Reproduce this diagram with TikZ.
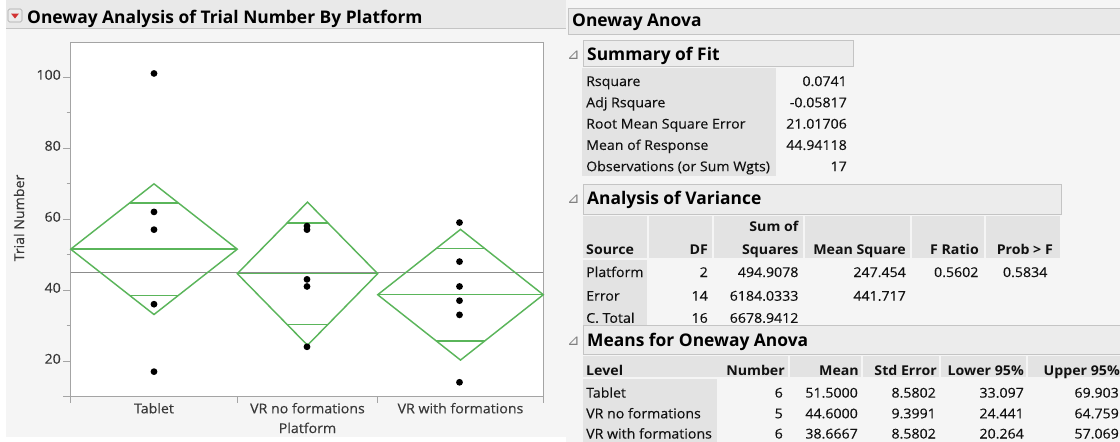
\documentclass[tikz,border=0pt]{standalone}
\usepackage{fontspec}
\setmainfont{Open Sans}[FakeStretch=1.05, UprightFeatures={FakeBold=0.3}]
\newfontfamily\hdfont{Open Sans}
\newfontfamily\symfont{DejaVu Sans}
\definecolor{panelbg}{HTML}{F5F5F5}
\definecolor{barbg}{HTML}{E9E9E9}
\definecolor{subbg}{HTML}{ECECEC}
\definecolor{barline}{HTML}{C4C4C4}
\definecolor{cellbg}{HTML}{E3E3E3}
\definecolor{diamondgreen}{HTML}{5AB55A}
\definecolor{axisgray}{HTML}{A4A4A4}
\definecolor{meangray}{HTML}{8C8C8C}
\definecolor{txt}{HTML}{111111}
\definecolor{iconred}{HTML}{D23232}
\tikzset{
  tbl/.style={font=\fontsize{13.5}{16}\selectfont, text=txt, inner sep=0pt},
  lbl/.style={tbl, anchor=base west},
  val/.style={tbl, anchor=base east},
  colhd/.style={tbl, font=\bfseries\fontsize{13.5}{16}\selectfont, anchor=base east},
  colhdl/.style={colhd, anchor=base west},
  sechead/.style={font=\hdfont\bfseries\fontsize{17.4}{20}\selectfont, text=black, inner sep=0pt, anchor=base west},
  subbox/.style={fill=subbg, draw=barline, line width=0.8pt},
  cell/.style={fill=cellbg},
  twisty/.style={font=\symfont\fontsize{15}{17}\selectfont, text=black!50, inner sep=0pt, anchor=base west},
  ticklbl/.style={tbl, text=black!78, anchor=mid east},
  axlbl/.style={tbl, text=black!78, anchor=base},
  diamondline/.style={draw=diamondgreen, line width=1.45pt},
  dot/.style={fill=black},
  axisline/.style={draw=axisgray, line width=0.9pt},
}
\begin{document}
\begin{tikzpicture}[x=1pt, y=-1pt]
\path[use as bounding box] (0,0) rectangle (1120,442);
\fill[white] (0,0) rectangle (1120,442);

% ---------- left panel: one-way plot ----------
\fill[panelbg] (6,0) rectangle (566,437);
\fill[barbg] (6,0) rectangle (566,28);
\draw[barline, line width=0.8pt] (6,28) -- (566,28);
% disclosure icon
\draw[fill=white!92!black, draw=black!35, rounded corners=1.5pt, line width=0.6pt] (8,9) rectangle (22,22);
\fill[iconred] (11,13.5) -- (19,13.5) -- (15,18.5) -- cycle;
\node[sechead] (plottitle) at (27,23) {Oneway Analysis of Trial Number By Platform};

% plot area (value v sits at y = 432 - 3.55 v)
\fill[white] (70.7,42.3) rectangle (543.3,396.7);
\draw[axisline] (70.7,42.3) -- (543.3,42.3) -- (543.3,403);
\draw[axisline] (70.7,42.3) -- (70.7,403);
\draw[axisline] (63,396.7) -- (543.3,396.7);
\foreach \xx in {237.3,377.7} \draw[axisline] (\xx,396.7) -- (\xx,403);
% y ticks
\foreach \v in {20,40,60,80,100} {
  \draw[axisline] (63,{432-3.55*\v}) -- (70.7,{432-3.55*\v});
  \node[ticklbl] (tick\v) at (61,{432-3.55*\v}) {\v};
}
\foreach \v in {30,50,70,90} \draw[axisline] (66.5,{432-3.55*\v}) -- (70.7,{432-3.55*\v});
\node[tbl, text=black!78, rotate=90, anchor=center] (ylabel) at (19,218) {Trial Number};

% grand mean
\draw[meangray, line width=1.2pt] (70.7,272.5) -- (543.3,272.5);

% means diamonds: left, right, mean, lower, upper
\foreach \l/\r/\m/\lo/\hi in {70.7/237.3/51.5/33.097/69.903,
                                237.3/377.7/44.6/24.441/64.759,
                                377.7/543.3/38.6667/20.264/57.069} {
  \pgfmathsetmacro{\c}{(\l+\r)/2}
  \pgfmathsetmacro{\hw}{(\r-\l)/2}
  \pgfmathsetmacro{\ym}{432-3.55*\m}
  \pgfmathsetmacro{\yt}{432-3.55*\hi}
  \pgfmathsetmacro{\yb}{432-3.55*\lo}
  \pgfmathsetmacro{\ov}{(\hi-\m)/sqrt(2)}
  \pgfmathsetmacro{\yu}{432-3.55*(\m+\ov)}
  \pgfmathsetmacro{\yd}{432-3.55*(\m-\ov)}
  \pgfmathsetmacro{\ow}{\hw*(1-1/sqrt(2))}
  \draw[diamondline, line join=miter] (\l,\ym) -- (\c,\yt) -- (\r,\ym) -- (\c,\yb) -- cycle;
  \draw[diamondline] (\l,\ym) -- (\r,\ym);
  \draw[diamondline] ({\c-\ow},\yu) -- ({\c+\ow},\yu);
  \draw[diamondline] ({\c-\ow},\yd) -- ({\c+\ow},\yd);
}

% observations
\foreach \v in {101,62,57,36,17} \fill[dot] (154,{432-3.55*\v}) circle (3.4);
\foreach \v in {58,57,43,41,24} \fill[dot] (307,{432-3.55*\v}) circle (3.4);
\foreach \v in {59,48,41,37,33,14} \fill[dot] (459.5,{432-3.55*\v}) circle (3.4);

% x axis labels
\node[axlbl] (xtablet) at (154,413.3) {Tablet};
\node[axlbl] (xvrno) at (307.5,413.3) {VR no formations};
\node[axlbl] (xvrwith) at (460.5,413.3) {VR with formations};
\node[axlbl] (xlabel) at (307.5,433) {Platform};

% ---------- right panel: report tables ----------
\fill[panelbg] (566,0) rectangle (1120,442);
\draw[fill=barbg, draw=barline, line width=0.8pt] (1125,8) -- (568,8) -- (568,34) -- (1125,34);
\node[sechead] (anovatitle) at (572,26.7) {Oneway Anova};

% Summary of Fit
\node[twisty] (tw1) at (567,59) {⊿};
\draw[subbox] (583,40) rectangle (853,66);
\node[sechead] (sumfit) at (587,60) {Summary of Fit};
\fill[cell] (582,68) rectangle (776,176);
\foreach \t/\vv/\yy in {Rsquare/0.0741/86, Adj Rsquare/-0.05817/107.3, Root Mean Square Error/21.01706/128.6,
                         Mean of Response/44.94118/149.9, Observations (or Sum Wgts)/17/171.2} {
  \node[lbl] at (586,\yy) {\t};
  \node[val] at (847,\yy) {\vv};
}

% Analysis of Variance
\node[twisty] (tw2) at (567,203) {⊿};
\draw[subbox] (583,184) rectangle (1061,214);
\node[sechead] (anovahead) at (587,204) {Analysis of Variance};
\foreach \a/\b in {583/647, 649/712, 714/803, 805/910, 912/984, 986/1060} \fill[cell] (\a,216) rectangle (\b,258);
\fill[cell] (583,260) rectangle (647,328);
\node[colhdl] (hsrc) at (586,254) {Source};
\node[colhd] (hdf) at (708,254) {DF};
\node[colhd] (hss1) at (798.6,231) {Sum of};
\node[colhd] (hss2) at (798.6,254) {Squares};
\node[colhd] (hms) at (906,254) {Mean Square};
\node[colhd] (hfr) at (979,254) {F Ratio};
\node[colhd] (hpf) at (1053,254) {Prob > F};
\node[lbl] (rplat) at (586,277) {Platform};
\node[lbl] (rerr) at (586,300.7) {Error};
\node[lbl] (rtot) at (586,322.8) {C. Total};
\node[val] at (708,277) {2};
\node[val] at (798.6,277) {494.9078};
\node[val] at (906,277) {247.454};
\node[val] at (978.6,277) {0.5602};
\node[val] at (1047.5,277) {0.5834};
\node[val] at (708,300.7) {14};
\node[val] at (798.6,300.7) {6184.0333};
\node[val] at (906,300.7) {441.717};
\node[val] at (708,322.8) {16};
\node[val] at (798.6,322.8) {6678.9412};

% Means for Oneway Anova
\node[twisty] (tw3) at (567,345) {⊿};
\draw[subbox] (1125,325) -- (583,325) -- (583,354) -- (1125,354);
\node[sechead] (meanshead) at (587,346.8) {Means for Oneway Anova};
\foreach \a/\b in {583/788, 790/861, 863/939, 941/1026, 1028/1125} \fill[cell] (\a,356) rectangle (\b,377);
\fill[cell] (583,379) rectangle (717,442);
\node[colhdl] (hlev) at (586,375.4) {Level};
\node[colhd] (hnum) at (785,375.4) {Number};
\node[colhd] (hmean) at (859,375.4) {Mean};
\node[colhd] (hse) at (937,375.4) {Std Error};
\node[colhd] (hlo) at (1024,375.4) {Lower 95\%};
\node[colhd] (hup) at (1120,375.4) {Upper 95\%};
\foreach \lev/\n/\mn/\se/\lo/\up/\yy in {Tablet/6/51.5000/8.5802/33.097/69.903/397.6,
                                          VR no formations/5/44.6000/9.3991/24.441/64.759/418.3,
                                          VR with formations/6/38.6667/8.5802/20.264/57.069/438.5} {
  \node[lbl] at (586,\yy) {\lev};
  \node[val] at (783,\yy) {\n};
  \node[val] at (858,\yy) {\mn};
  \node[val] at (936,\yy) {\se};
  \node[val] at (1024,\yy) {\lo};
  \node[val] at (1119,\yy) {\up};
}
\end{tikzpicture}
\end{document}
